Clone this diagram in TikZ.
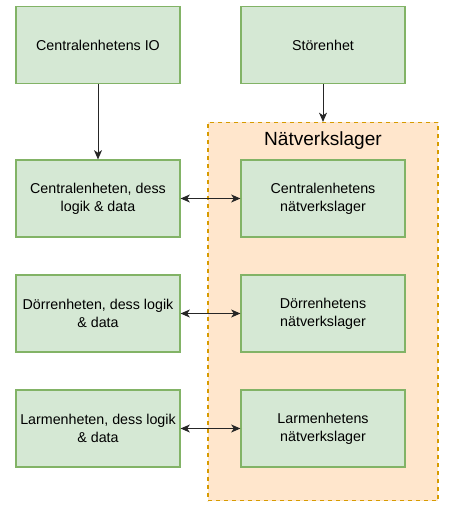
\documentclass[tikz,border=0pt]{standalone}
\usepackage{fontspec}
\setmainfont{Liberation Sans}
\usetikzlibrary{arrows.meta}
\definecolor{gfill}{HTML}{D5E8D4}
\definecolor{gline}{HTML}{82B366}
\definecolor{ofill}{HTML}{FFE6CC}
\definecolor{oline}{HTML}{D79B00}
\begin{document}
\begin{tikzpicture}[x=0.75pt,y=-0.75pt,
  gbox/.style={draw=gline,fill=gfill,line width=0.8pt,minimum width=123pt,minimum height=57.75pt,inner sep=0pt,align=center,font=\fontsize{10.7pt}{13.5pt}\selectfont},
  conn/.style={line width=0.75pt,draw=black!85,-{Stealth[length=7pt,width=6pt,inset=2pt]}},
  bconn/.style={line width=0.75pt,draw=black!85,{Stealth[length=7pt,width=6pt,inset=2pt]}-{Stealth[length=7pt,width=6pt,inset=2pt]}}]
\useasboundingbox (0,0) rectangle (451,513);
\node[draw=oline,fill=ofill,dashed,line width=0.8pt,minimum width=172.5pt,minimum height=283.5pt,inner sep=0pt] (cont) at (323,311.5) {};
\node[font=\fontsize{14.3pt}{17pt}\selectfont] (title) at (323,141) {Nätverkslager};
\node[gbox] (io) at (98,45) {Centralenhetens IO};
\node[gbox] (stor) at (323,45) {Störenhet};
\node[gbox] (cen) at (98,198.5) {Centralenheten, dess\\logik \& data};
\node[gbox] (dor) at (98,313.5) {Dörrenheten, dess logik\\\& data};
\node[gbox] (lar) at (98,428.5) {Larmenheten, dess logik\\\& data};
\node[gbox] (cenn) at (323,198.5) {Centralenhetens\\nätverkslager};
\node[gbox] (dorn) at (323,313.5) {Dörrenhetens\\nätverkslager};
\node[gbox] (larn) at (323,428.5) {Larmenhetens\\nätverkslager};
\draw[conn] (io) -- (cen);
\draw[conn] (stor) -- (cont.north);
\draw[bconn] (cen) -- (cenn);
\draw[bconn] (dor) -- (dorn);
\draw[bconn] (lar) -- (larn);
\end{tikzpicture}
\end{document}
